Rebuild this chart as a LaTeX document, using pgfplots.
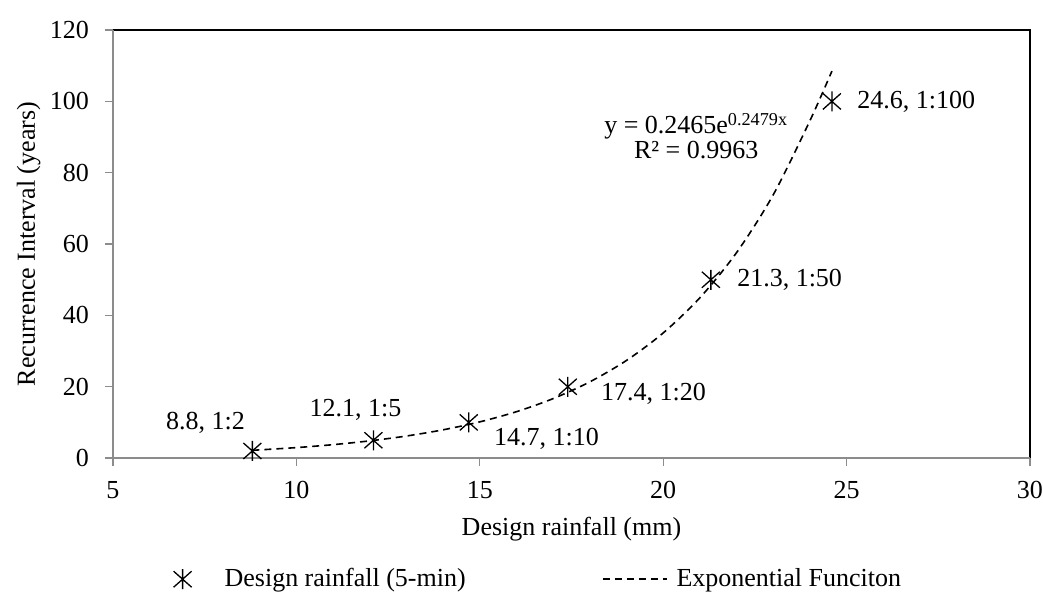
\documentclass[border=0pt]{standalone}
\usepackage{fontspec}
\setmainfont{Liberation Serif}
\usepackage{pgfplots}
\pgfplotsset{compat=1.18}
\definecolor{axgray}{HTML}{8C8C8C}
\pgfdeclareplotmark{xstar}{%
  \pgfpathmoveto{\pgfqpoint{-4.5pt}{-4pt}}\pgfpathlineto{\pgfqpoint{4.5pt}{4pt}}%
  \pgfpathmoveto{\pgfqpoint{-4.5pt}{4pt}}\pgfpathlineto{\pgfqpoint{4.5pt}{-4pt}}%
  \pgfpathmoveto{\pgfqpoint{0pt}{-5pt}}\pgfpathlineto{\pgfqpoint{0pt}{5pt}}%
  \pgfusepathqstroke}
\pgfplotsset{
  starlegend/.style={legend image code/.code={\path[draw=none] (0pt,0pt) -- (19pt,0pt); \draw[##1] plot coordinates {(0pt,0pt)};}},
  dashlegend/.style={legend image code/.code={\draw[##1] (0pt,0pt) -- (32pt,0pt); \path[draw=none] (0pt,0pt) -- (35pt,0pt);}},
}
\begin{document}
\begin{tikzpicture}
\begin{axis}[
  scale only axis, width=458.5pt, height=214pt,
  xmin=5, xmax=30, ymin=0, ymax=120,
  xtick={5,10,...,30}, ytick={0,20,...,120},
  axis line style={draw=none},
  tick align=outside, xtick pos=bottom, ytick pos=left,
  major tick length=4pt,
  tick style={axgray, line width=0.6pt},
  /pgf/number format/assume math mode=true,
  ticklabel style={font=\fontsize{13}{15}\selectfont},
  xticklabel style={yshift=-4pt},
  yticklabel style={xshift=-4.5pt},
  label style={font=\fontsize{13}{15}\selectfont},
  xlabel={Design rainfall (mm)},
  ylabel={Recurrence Interval (years)},
  xlabel style={at={(axis description cs:0.5,-0.166)}, anchor=center},
  ylabel style={at={(axis description cs:-0.092,0.5)}, anchor=center},
  clip=false,
  legend columns=2,
  legend style={draw=none, fill=none, font=\fontsize{13}{15}\selectfont,
    at={(axis description cs:0.465,-0.283)}, anchor=center,
    /tikz/every even column/.append style={column sep=66pt}},
]
\addplot[only marks, mark=xstar, mark options={line width=0.65pt, black}, starlegend]
  coordinates {(8.8,2) (12.1,5) (14.7,10) (17.4,20) (21.3,50) (24.6,100)};
\addlegendentry{Design rainfall (5-min)}
\addplot[black, line width=0.8pt, dash pattern=on 3.5pt off 2.5pt, no marks, smooth, dashlegend]
  coordinates {(8.8,2.184) (10,2.941) (11,3.768) (12,4.828) (13,6.186) (14,7.926)
   (15,10.154) (16,13.01) (17,16.68) (18,21.37) (19,27.38) (20,35.08) (21,44.95)
   (22,57.60) (23,73.81) (24,94.58) (24.6,108.5)};
\addlegendentry{Exponential Funciton}
\draw[black, line width=1pt] (rel axis cs:0,1) -- (rel axis cs:1,1) -- (rel axis cs:1,0);
\draw[axgray, line width=0.6pt] (rel axis cs:0,1) -- (rel axis cs:0,0) -- (rel axis cs:1,0);
\begin{scope}[every node/.style={font=\fontsize{13}{15}\selectfont, inner sep=0pt}]
\node[anchor=east] at ([xshift=-3.5pt,yshift=14pt]axis cs:8.8,2) {8.8, 1:2};
\node[anchor=center] at ([xshift=-9pt,yshift=15pt]axis cs:12.1,5) {12.1, 1:5};
\node[anchor=west] at ([xshift=12.5pt,yshift=-8pt]axis cs:14.7,10) {14.7, 1:10};
\node[anchor=west] at ([xshift=16.5pt,yshift=-3.5pt]axis cs:17.4,20) {17.4, 1:20};
\node[anchor=west] at ([xshift=13pt]axis cs:21.3,50) {21.3, 1:50};
\node[anchor=west] at ([xshift=12.5pt]axis cs:24.6,100) {24.6, 1:100};
\node[align=center, anchor=center, font=\fontsize{13}{12.5}\selectfont] at (axis cs:20.9,90.3) {y = 0.2465e\textsuperscript{0.2479x}\\R² = 0.9963};
\end{scope}
\coordinate (bl) at (rel axis cs:-0.1232,-0.3162);
\coordinate (tr) at (rel axis cs:1.0142,1.0703);
\end{axis}
\pgfresetboundingbox
\path (bl) rectangle (tr);
\end{tikzpicture}
\end{document}
